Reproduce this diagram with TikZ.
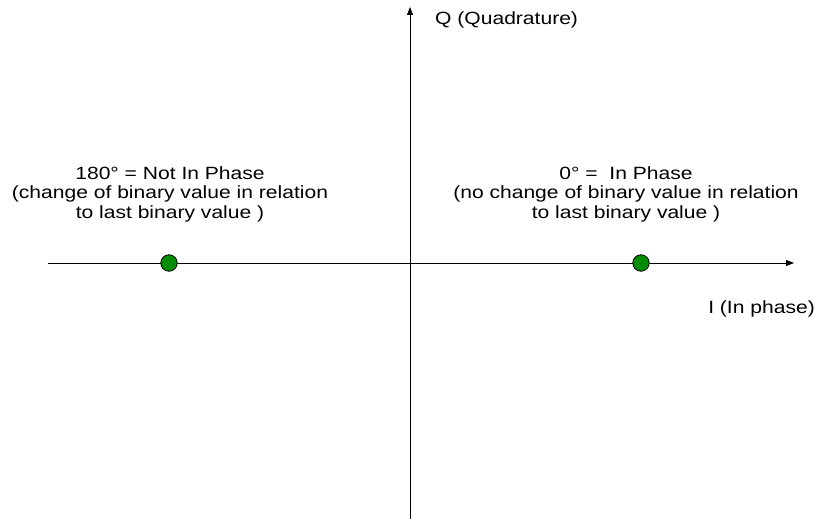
\documentclass[tikz,border=0pt]{standalone}
\usepackage{fontspec}
\setmainfont[FakeStretch=1.19]{Liberation Sans}
\usetikzlibrary{arrows.meta,positioning}

\begin{document}
\begin{tikzpicture}[x=1pt, y=-1pt,
    axis/.style={-{Triangle[length=8pt,width=6pt]}, line width=0.8pt},
    pt/.style={circle, draw, fill=dotgreen, line width=0.8pt, minimum size=16.5pt, inner sep=0pt},
    lbl/.style={align=center, font=\fontsize{17.7}{19.5}\selectfont, inner sep=0pt},
  ]
  \definecolor{dotgreen}{RGB}{0,140,0}
  \useasboundingbox (0,0) rectangle (819,519);

  \coordinate (xl) at (48,263);
  \coordinate (xr) at (794,263);
  \coordinate (yb) at (410,519);
  \coordinate (yt) at (410,7);

  \draw[axis] (xl) -- (xr);
  \draw[axis] (yb) -- (yt);

  \node[pt] (p180) at (169,263) {};
  \node[pt] (p0) at (641,263) {};

  \node[lbl, anchor=base west] (qlab) at (435,25) {Q (Quadrature)};
  \node[lbl, anchor=base east] (ilab) at (815,313) {I (In phase)};

  \node[lbl] (t180) at (170,194) {180° = Not In Phase\\(change of binary value in relation\\to last binary value )};
  \node[lbl] (t0) at (626,194) {0° =\ \ In Phase\\(no change of binary value in relation\\to last binary value )};
\end{tikzpicture}
\end{document}
